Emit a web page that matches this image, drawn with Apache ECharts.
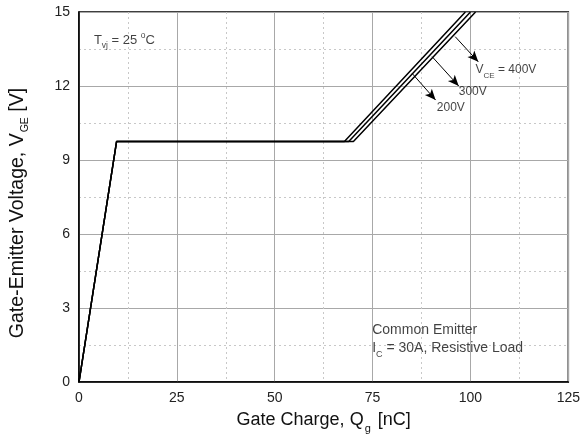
<!DOCTYPE html>
<html><head><meta charset="utf-8">
<script src="https://cdn.jsdelivr.net/npm/echarts@6/dist/echarts.min.js"></script>
<style>html,body{margin:0;padding:0;background:#fff}#c{width:583px;height:445px}</style>
</head><body><div id="c"></div>
<script>
// Gate charge data (Qg in nC, VGE in V)
var qg200 = [0, 9.6, 67.8, 98.7];
var qg300 = [0, 9.6, 68.9, 100.0];
var qg400 = [0, 9.6, 70.1, 101.3];
var vge   = [0, 9.75, 9.75, 15];
var xTicks = [0, 25, 50, 75, 100, 125];
var yTicks = [0, 3, 6, 9, 12, 15];
// annotation arrows (from -> to), data coordinates
var arrowFrom = [[96.1, 14.0], [90.2, 13.19], [85.1, 12.51]];
var arrowTo   = [[102.0, 12.98], [97.0, 12.0], [91.1, 11.43]];
var arrowText = ['{a|V}{as|CE}{a| = 400V}', '{a|300V}', '{a|200V}'];
var arrowTextPos = [[101.3, 12.56], [97.0, 11.7], [91.4, 11.05]];
var noteText = ['{t|T}{ts|vj}{t| = 25 }{tp|o}{t|C}', '{n|Common Emitter}', '{n|I}{sub|C}{n| = 30A, Resistive Load}'];
var notePos = [[3.8, 13.78], [74.9, 2.02], [74.9, 1.28]];

var FONT = 'Liberation Sans, Arial, sans-serif';
function st(size, pad, lh) {
  return {fontSize: size, fontFamily: FONT, color: '#111', verticalAlign: 'top', padding: pad, lineHeight: lh};
}
var rich = {
  n: st(14, [0, 0, 0, 0], 18), sub: st(9, [9, 0, 0, 0], 18),
  t: st(13, [0, 0, 0, 0], 17), ts: st(8.5, [8, 0, 0, 0], 17), tp: st(8.5, [-2, 0, 0, 0], 17),
  a: st(12, [0, 0, 0, 0], 16), as: st(8, [8, 0, 0, 0], 16)
};

function pairs(xs, ys) { return xs.map(function (x, i) { return [x, ys[i]]; }); }
function textItems(texts, pos) {
  return texts.map(function (t, i) {
    return {value: pos[i], label: {formatter: t}};
  });
}
var lineStyle = {color: '#000', width: 1.5};
var chart = echarts.init(document.getElementById('c'));
chart.setOption({
  animation: false,
  backgroundColor: '#fff',
  grid: {left: 77, right: 12, top: 12, bottom: 63, show: true, borderColor: '#000', borderWidth: 1.5, backgroundColor: 'transparent'},
  xAxis: {
    type: 'value', min: 0, max: 125, interval: 25,
    name: '{n|Gate Charge, Q}{sub|g}{n| [nC]}', nameLocation: 'middle', nameGap: 29,
    nameTextStyle: {rich: {n: st(18, [0, 0, 0, 0], 22), sub: st(11, [12, 2, 0, 1], 22)}},
    axisLine: {show: true, lineStyle: {color: '#000', width: 1.5}},
    axisTick: {show: false},
    axisLabel: {fontSize: 14, fontFamily: FONT, color: '#222', margin: 9, formatter: function (v) { return xTicks.indexOf(v) >= 0 ? String(v) : ''; }},
    splitLine: {show: true, lineStyle: {color: '#a8a8a8', width: 1}},
    minorTick: {show: false, splitNumber: 2},
    minorSplitLine: {show: true, lineStyle: {color: '#c8c8c8', type: [2, 3], width: 1}}
  },
  yAxis: {
    type: 'value', min: 0, max: 15, interval: 3,
    name: '{n|Gate-Emitter Voltage, V}{sub|GE}{n| [V]}', nameLocation: 'middle', nameGap: 47, nameRotate: 90,
    nameTextStyle: {padding: [0, 32, 0, 0], rich: {n: st(19.5, [0, 0, 0, 0], 24), sub: st(10.5, [12, 0, 0, 1], 24)}},
    axisLine: {show: true, lineStyle: {color: '#000', width: 1.5}},
    axisTick: {show: false},
    axisLabel: {fontSize: 14, fontFamily: FONT, color: '#222', margin: 9, formatter: function (v) { return yTicks.indexOf(v) >= 0 ? String(v) : ''; }},
    splitLine: {show: true, lineStyle: {color: '#a8a8a8', width: 1}},
    minorTick: {show: false, splitNumber: 2},
    minorSplitLine: {show: true, lineStyle: {color: '#c8c8c8', type: [2, 3], width: 1}}
  },
  series: [
    {type: 'line', name: '200V', data: pairs(qg200, vge), showSymbol: false, lineStyle: lineStyle, z: 5},
    {type: 'line', name: '300V', data: pairs(qg300, vge), showSymbol: false, lineStyle: lineStyle, z: 5},
    {type: 'line', name: '400V', data: pairs(qg400, vge), showSymbol: false, lineStyle: lineStyle, z: 5,
      markLine: {
        silent: true, symbol: ['none', 'arrow'], symbolSize: [7, 11],
        lineStyle: {color: '#000', width: 1, type: 'solid'}, label: {show: false},
        data: arrowFrom.map(function (f, i) { return [{coord: f}, {coord: arrowTo[i]}]; })
      }
    },
    {type: 'scatter', symbolSize: 0, silent: true, z: 6,
      label: {show: true, position: 'right', distance: 0, rich: rich},
      data: textItems(arrowText, arrowTextPos).concat(textItems(noteText, notePos))
    }
  ]
});
</script>
</body></html>
